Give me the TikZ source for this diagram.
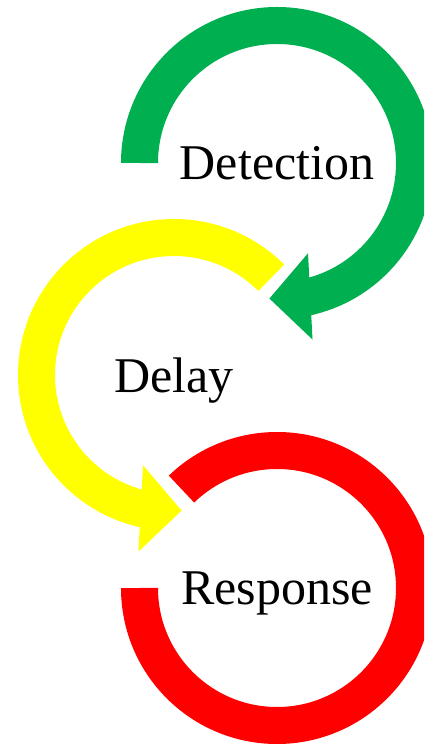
\documentclass[tikz,border=0pt]{standalone}
\usepackage{fontspec}
\setmainfont{Liberation Serif}
\usetikzlibrary{arrows.meta}

\definecolor{ringgreen}{RGB}{0,176,80}
\definecolor{ringyellow}{RGB}{255,255,0}
\definecolor{ringred}{RGB}{255,0,0}

\tikzset{
    ring/.style = {line width=37pt},
    ringhead/.style = {-{Triangle[width=84pt, length=41pt]}},
    stagelabel/.style = {font=\fontsize{50}{60}\selectfont, anchor=base, inner sep=0pt},
}

\begin{document}
\begin{tikzpicture}[x=1pt, y=1pt]
    \def \rad {137.5};
    \def \hl {41};

    \clip (0,0) rectangle (424,744);

    \coordinate (gc) at (277,581);
    \coordinate (yc) at (174,369);
    \coordinate (rc) at (277,156);

    % green ring, arrow into the yellow one
    \draw [ring, ringhead, color=ringgreen] (gc) ++(180:\rad)
        arc[start angle=180, end angle=-76, radius=\rad] -- ++(183:\hl);

    % yellow ring, arrow into the red one
    \draw [ring, ringhead, color=ringyellow] (yc) ++(45:\rad)
        arc[start angle=45, end angle=256, radius=\rad] -- ++(357:\hl);

    % red ring, no arrow
    \draw [ring, color=ringred] (rc) ++(180:\rad)
        arc[start angle=180, end angle=494, radius=\rad];

    \node [stagelabel] (det) at (277,564) {Detection};
    \node [stagelabel] (del) at (174,351) {Delay};
    \node [stagelabel] (res) at (277,139) {Response};
\end{tikzpicture}
\end{document}
